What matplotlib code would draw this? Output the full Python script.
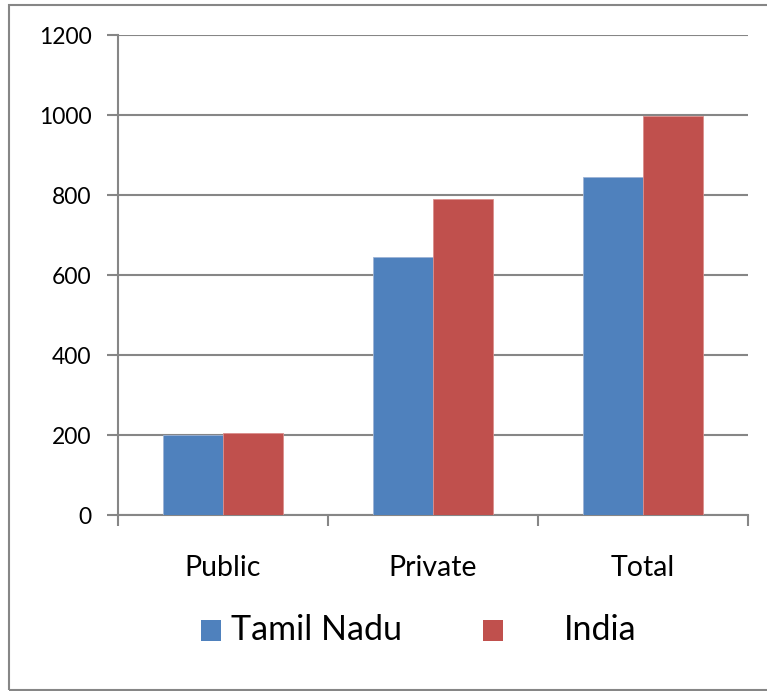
import matplotlib
matplotlib.use("Agg")
import matplotlib.pyplot as plt
from matplotlib.patches import Rectangle
import numpy as np

categories = ["Public", "Private", "Total"]
series_names = ["Tamil Nadu", "India"]
tamil_nadu = [201, 644, 846]
india = [206, 790, 998]
yticks = [0, 200, 400, 600, 800, 1000, 1200]

colors = ["#4F81BD", "#C0504D"]
grid_c = "#868686"
FONT = ["Lato", "DejaVu Sans"]
plt.rcParams["font.family"] = FONT

W, H = 767, 691
fig = plt.figure(figsize=(W / 100, H / 100), dpi=100)
ax = fig.add_axes([118 / W, 1 - 515 / H, (748 - 118) / W, (515 - 35) / H])

x = np.arange(len(categories))
bw = 60 / 210
ax.bar(x - bw / 2, tamil_nadu, bw, color=colors[0], edgecolor="#9DB4D6", linewidth=0.6, zorder=3)
ax.bar(x + bw / 2, india, bw, color=colors[1], edgecolor="#DB8E8C", linewidth=0.6, zorder=3)

ax.set_xlim(-0.5, len(categories) - 0.5)
ax.set_ylim(0, 1200)
ax.set_yticks(yticks)
ax.set_yticklabels([str(v) for v in yticks], fontsize=16.5)
ax.yaxis.grid(True, color=grid_c, linewidth=1.5, zorder=0)
ax.set_axisbelow(True)

ax.set_xticks(np.arange(len(categories) + 1) - 0.5)
ax.set_xticklabels([])
ax.set_xticks(x, minor=True)
ax.set_xticklabels(categories, minor=True, fontsize=20.5)
ax.tick_params(axis="x", which="major", length=8, width=1.5, color=grid_c, direction="out")
ax.tick_params(axis="x", which="minor", length=0, pad=28.5)
ax.tick_params(axis="y", length=8, width=1.5, color=grid_c, pad=11)

for s in ["top", "right"]:
    ax.spines[s].set_visible(False)
for s in ["left", "bottom"]:
    ax.spines[s].set_color(grid_c)
    ax.spines[s].set_linewidth(1.5)

# legend
leg_y = 1 - 641 / H
sq_w, sq_h = 20 / W, 21 / H
for (sx, tx), name, c in zip([(201, 231), (483, 564)], series_names, colors):
    fig.patches.append(Rectangle((sx / W, leg_y), sq_w, sq_h, transform=fig.transFigure,
                                 facecolor=c, edgecolor="none"))
    fig.text(tx / W, leg_y + sq_h / 2, name, fontsize=24.5, va="center", ha="left")

# outer frame
fig.patches.append(Rectangle((9 / W, 1 - 690 / H), (W + 10 - 9) / W, (690 - 5) / H,
                             transform=fig.transFigure, facecolor="none",
                             edgecolor=grid_c, linewidth=1.5))

fig.savefig("out.png", dpi=100)
